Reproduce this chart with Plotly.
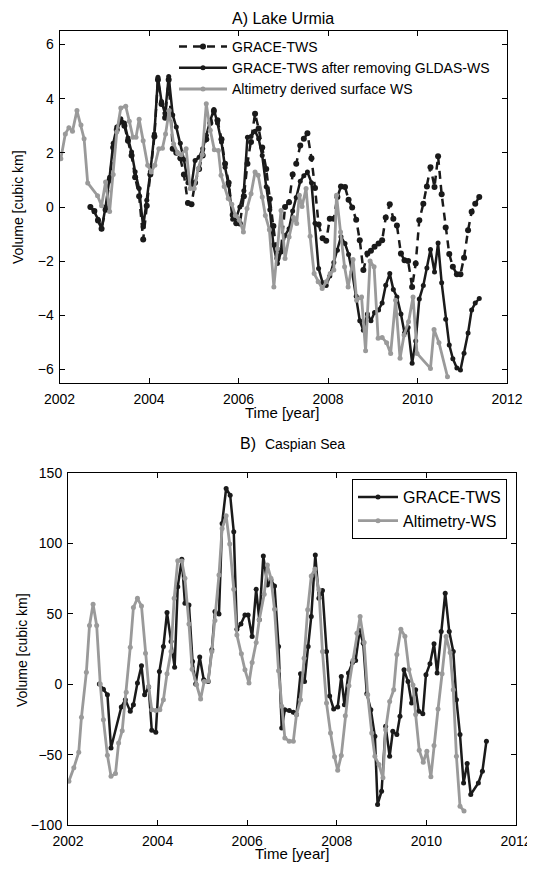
import plotly.graph_objects as go

# ---------------- Panel A: Lake Urmia ----------------
t_grace_a = [2002.69, 2002.78, 2002.86, 2002.94,
             2003.03, 2003.12, 2003.20, 2003.28, 2003.37, 2003.45, 2003.53, 2003.61, 2003.69, 2003.78, 2003.87, 2003.95,
             2004.03, 2004.12, 2004.20, 2004.28, 2004.36, 2004.44, 2004.53, 2004.61, 2004.70, 2004.78, 2004.87, 2004.95,
             2005.03, 2005.12, 2005.20, 2005.28, 2005.37, 2005.45, 2005.53, 2005.62, 2005.70, 2005.78, 2005.87, 2005.95,
             2006.03, 2006.12, 2006.20, 2006.28, 2006.37, 2006.45, 2006.53, 2006.62, 2006.70, 2006.78, 2006.87, 2006.95,
             2007.04, 2007.13, 2007.21, 2007.29, 2007.38, 2007.46, 2007.54, 2007.63, 2007.71, 2007.79, 2007.88, 2007.96,
             2008.04, 2008.13, 2008.21, 2008.29, 2008.38, 2008.46, 2008.54, 2008.63, 2008.71, 2008.79, 2008.88, 2008.96,
             2009.04, 2009.13, 2009.21, 2009.29, 2009.38, 2009.46, 2009.54, 2009.63, 2009.71, 2009.79, 2009.88, 2009.96,
             2010.04, 2010.13, 2010.21, 2010.29, 2010.38, 2010.46, 2010.54, 2010.63, 2010.71, 2010.79, 2010.88, 2010.96,
             2011.04, 2011.13, 2011.21, 2011.29, 2011.38]

grace_tws_a = [0.00, -0.15, -0.50, -0.80,
               -0.10, 1.00, 2.20, 2.85, 3.15, 3.00, 2.45, 1.90, 1.10, 0.40, -1.20, 0.05,
               1.20, 2.60, 4.70, 3.80, 3.30, 4.70, 2.15, 2.00, 1.80, 1.20, 0.15, 0.10,
               0.90, 1.40, 1.90, 2.50, 3.10, 3.55, 3.20, 2.50, 1.60, 0.90, -0.30, -0.60,
               -0.61, 0.40, 1.60, 2.40, 3.44, 2.90, 2.20, 1.40, 0.30, -0.70, -1.90, -1.60,
               0.00, 0.18, 1.20, 1.60, 2.27, 2.52, 2.72, 1.80, 0.70, -0.65, -1.15, -1.25,
               -0.43, -0.43, 0.37, 0.76, 0.74, 0.27, -0.02, -0.47, -1.23, -2.33, -1.72, -1.62,
               -1.47, -1.35, -1.23, -0.39, 0.10, -0.43, -0.68, -1.72, -1.97, -1.99, -2.95, -2.09,
               -0.49, 0.12, 0.76, 1.47, 0.74, 1.87, 0.47, -0.76, -1.74, -2.21, -2.48, -2.48,
               -1.87, -0.86, -0.18, 0.12, 0.37]

grace_minus_gldas_a = [0.00, -0.18, -0.45, -0.80,
                       0.00, 1.10, 2.35, 2.95, 3.26, 3.10, 2.55, 2.03, 1.30, 0.68, -0.74, 0.25,
                       1.30, 2.70, 4.79, 3.90, 3.44, 4.82, 3.40, 2.95, 2.35, 1.75, 0.90, 0.80,
                       1.72, 1.84, 2.15, 2.65, 3.20, 3.60, 3.10, 2.40, 1.47, 0.80, -0.45, -0.40,
                       0.00, 0.60, 2.58, 2.60, 2.80, 2.52, 1.90, 0.75, -0.10, -1.40, -2.09, -1.66,
                       -1.05, -0.80, -0.15, 0.35, 0.95, 1.15, 1.29, 0.90, -0.60, -2.27, -2.80, -2.90,
                       -2.55, -2.05, -1.60, -1.10, -1.35, -1.75, -2.40, -3.30, -4.20, -4.55, -3.95, -4.20,
                       -3.90, -3.80, -3.55, -2.89, -2.46, -3.05, -3.32, -3.95, -4.65, -4.45, -5.77, -4.95,
                       -3.40, -2.90, -2.25, -1.57, -2.40, -1.33, -2.80, -4.15, -5.10, -5.60, -5.95, -6.02,
                       -5.40, -4.65, -3.80, -3.55, -3.38]

t_alt_a = [2002.03, 2002.13, 2002.21, 2002.29, 2002.39, 2002.48, 2002.55, 2002.63, 2002.85, 2002.94,
           2003.03, 2003.12, 2003.20, 2003.28, 2003.37, 2003.48, 2003.56, 2003.64, 2003.71, 2003.78, 2003.87, 2003.97,
           2004.05, 2004.13, 2004.22, 2004.30, 2004.37, 2004.45, 2004.55, 2004.64, 2004.72, 2004.83, 2004.92,
           2005.01, 2005.10, 2005.19, 2005.28, 2005.37, 2005.46, 2005.55, 2005.61, 2005.68, 2005.77, 2005.85, 2005.93,
           2006.02, 2006.11, 2006.19, 2006.28, 2006.37, 2006.44, 2006.53, 2006.60, 2006.69, 2006.79, 2006.87, 2006.95,
           2007.04, 2007.13, 2007.23, 2007.30, 2007.36, 2007.42, 2007.51, 2007.60, 2007.69, 2007.78, 2007.87, 2007.96,
           2008.05, 2008.13, 2008.19, 2008.28, 2008.37, 2008.45, 2008.56, 2008.64, 2008.75, 2008.84, 2008.94,
           2009.03, 2009.12, 2009.21, 2009.31, 2009.40, 2009.51, 2009.61, 2009.70, 2009.80, 2009.90, 2009.99,
           2010.29, 2010.37, 2010.48, 2010.67]

alt_ws_a = [1.78, 2.70, 2.93, 2.80, 3.56, 3.03, 2.52, 0.89, 0.42, 0.05,
            0.92, -0.17, 1.20, 2.77, 3.66, 3.72, 3.17, 2.58, 2.58, 3.24, 2.45, 1.54,
            1.29, 1.54, 2.15, 2.17, 2.70, 3.56, 2.33, 2.00, 1.93, 2.15, 0.68,
            0.68, 1.41, 1.93, 3.81, 2.83, 2.11, 2.09, 1.17, 0.76, 0.31, 0.10, -0.31,
            -0.49, -0.92, -0.06, 0.49, 1.29, 1.17, 0.37, -0.31, -0.84, -2.95, -1.54, -0.13,
            -1.90, -1.11, -0.39, -0.61, 0.43, 0.02, 0.68, -1.08, -2.46, -2.76, -3.01, -2.76,
            -2.46, -2.33, 0.43, -0.92, -2.21, -2.95, -1.94, -3.44, -3.32, -5.31, -1.99,
            -2.21, -4.85, -4.82, -5.01, -5.41, -3.44, -5.59, -4.73, -4.24, -3.32, -5.41,
            -5.96, -4.52, -5.01, -6.27]

# ---------------- Panel B: Caspian Sea ----------------
t_grace_b = [2002.70, 2002.79, 2002.88, 2002.96, 2003.19, 2003.28, 2003.39, 2003.46, 2003.55, 2003.64, 2003.71,
             2003.80, 2003.87, 2003.96, 2004.04, 2004.13, 2004.21, 2004.30, 2004.38, 2004.45, 2004.54, 2004.61,
             2004.70, 2004.78, 2004.85, 2004.94, 2005.03, 2005.13, 2005.21, 2005.28, 2005.37, 2005.44, 2005.53,
             2005.62, 2005.70, 2005.77, 2005.86, 2005.95, 2006.02, 2006.11, 2006.20, 2006.27, 2006.36, 2006.45,
             2006.53, 2006.61, 2006.70, 2006.77, 2006.84, 2006.94, 2007.03, 2007.10, 2007.19, 2007.28, 2007.36,
             2007.43, 2007.52, 2007.60, 2007.68, 2007.77, 2007.84, 2007.93, 2008.02, 2008.10, 2008.17, 2008.26,
             2008.35, 2008.42, 2008.51, 2008.59, 2008.67, 2008.76, 2008.85, 2008.91, 2009.00, 2009.09, 2009.18,
             2009.25, 2009.34, 2009.41, 2009.50, 2009.59, 2009.67, 2009.76, 2009.83, 2009.92, 2009.99, 2010.08,
             2010.17, 2010.24, 2010.33, 2010.42, 2010.51, 2010.60, 2010.67, 2010.75, 2010.83, 2010.91, 2010.99,
             2011.16, 2011.25, 2011.34]

grace_tws_b = [0.1, -3.5, -7.5, -45.3, -16.2, -11.0, -19.3, -14.6, 0.8, 13.1, -7.5,
               -2.0, -32.7, -34.2, 9.0, 26.8, 50.9, 30.3, 12.1, 69.3, 88.7, 57.5,
               56.3, 16.2, 0.1, 19.3, 3.2, 2.0, 24.4, 51.6, 49.9, 114.2, 139.0,
               134.2, 108.2, 39.1, 42.8, 49.2, 49.2, 33.9, 67.4, 45.7, 91.0, 70.5,
               74.0, 69.8, 26.8, -31.1, -18.1, -18.6, -20.0, -21.6, 7.4, 2.0, 26.8,
               48.0, 91.7, 61.0, 66.5, 23.2, -8.3, -17.6, -16.2, 5.5, -14.6, 7.9,
               15.4, 16.9, 38.1, 29.1, -6.8, -18.1, -37.0, -85.4, -76.0, -29.9, -51.2,
               -33.5, -35.8, -22.8, 10.2, 1.9, -13.4, -4.0, -19.3, -20.9, 6.7, 14.5,
               28.7, 7.9, 37.4, 64.6, 37.4, 23.2, -11.0, -35.8, -70.1, -56.4, -78.3,
               -70.1, -61.8, -40.5]

t_alt_b = [2002.02, 2002.13, 2002.24, 2002.30, 2002.41, 2002.48, 2002.56, 2002.64, 2002.72, 2002.79, 2002.88,
           2002.96, 2003.06, 2003.13, 2003.21, 2003.30, 2003.39, 2003.46, 2003.55, 2003.64, 2003.73, 2003.80,
           2003.87, 2003.96, 2004.05, 2004.13, 2004.21, 2004.30, 2004.37, 2004.45, 2004.54, 2004.61, 2004.70,
           2004.77, 2004.87, 2004.96, 2005.04, 2005.13, 2005.21, 2005.28, 2005.37, 2005.44, 2005.53, 2005.61,
           2005.70, 2005.77, 2005.87, 2005.95, 2006.04, 2006.11, 2006.20, 2006.27, 2006.38, 2006.45, 2006.53,
           2006.61, 2006.70, 2006.77, 2006.84, 2006.94, 2007.03, 2007.10, 2007.19, 2007.27, 2007.35, 2007.43,
           2007.51, 2007.60, 2007.68, 2007.77, 2007.86, 2007.95, 2008.02, 2008.10, 2008.19, 2008.27, 2008.36,
           2008.45, 2008.52, 2008.61, 2008.69, 2008.78, 2008.85, 2008.94, 2009.03, 2009.09, 2009.18, 2009.27,
           2009.34, 2009.43, 2009.52, 2009.61, 2009.70, 2009.76, 2009.84, 2009.93, 2010.01, 2010.10, 2010.17,
           2010.26, 2010.35, 2010.44, 2010.53, 2010.60, 2010.67, 2010.75, 2010.84]

alt_ws_b = [-68.9, -59.4, -48.3, -23.5, 8.4, 41.7, 56.8, 41.7, 0.1, -25.2, -50.5,
            -65.3, -63.5, -41.7, -33.0, -5.8, 26.3, 54.4, 61.0, 55.6, 22.0, -1.6,
            -18.1, -18.6, -18.1, -11.0, 7.4, 23.2, 61.0, 87.7, 87.5, 75.2, 42.8,
            10.7, -0.4, -10.5, 2.0, 2.4, 23.2, 45.2, 77.6, 110.6, 119.6, 99.5,
            67.4, 35.0, 21.6, 10.2, 0.8, 15.4, 29.6, 45.7, 63.9, 84.6, 75.2,
            53.2, 9.5, -15.7, -38.2, -40.5, -40.5, -21.6, -11.0, 18.5, 52.8, 76.9,
            81.8, 67.0, 23.2, -13.4, -34.6, -51.6, -61.1, -50.7, -22.4, -1.1, 16.9,
            36.2, 48.0, 29.6, -7.5, -34.6, -51.2, -57.1, -66.5, -32.3, -12.2, -4.0,
            21.1, 39.1, 34.1, 10.4, -0.5, -21.6, -46.9, -55.4, -47.6, -65.8, -43.6,
            -17.6, 7.4, 33.9, 22.5, -4.0, -51.2, -86.6, -90.1]

x_ticks = [2002, 2004, 2006, 2008, 2010, 2012]
y_ticks_a = [-6, -4, -2, 0, 2, 4, 6]
y_ticks_b = [-100, -50, 0, 50, 100, 150]

BLACK = "#1a1a1a"
GRAY = "#9a9a9a"
FONT = "Liberation Sans, Arial, sans-serif"

# page body has an 8px margin: the figure is sized to fit inside it
OFF = 8
W, H = 535 - 2 * OFF, 872 - 2 * OFF


def fx(px):
    return (px - OFF) / W


def fy(py):
    return 1 - (py - OFF) / H


fig = go.Figure()

fig.add_trace(go.Scatter(x=t_grace_a, y=grace_tws_a, mode="lines+markers", name="GRACE-TWS",
                         line=dict(color=BLACK, width=2.5, dash="8px,6px"),
                         marker=dict(color=BLACK, size=6), xaxis="x", yaxis="y", legend="legend"))
fig.add_trace(go.Scatter(x=t_grace_a, y=grace_minus_gldas_a, mode="lines+markers",
                         name="GRACE-TWS after removing GLDAS-WS",
                         line=dict(color=BLACK, width=2.5), marker=dict(color=BLACK, size=5),
                         xaxis="x", yaxis="y", legend="legend"))
fig.add_trace(go.Scatter(x=t_alt_a, y=alt_ws_a, mode="lines+markers", name="Altimetry derived surface WS",
                         line=dict(color=GRAY, width=2.8), marker=dict(color=GRAY, size=5),
                         xaxis="x", yaxis="y", legend="legend"))

fig.add_trace(go.Scatter(x=t_grace_b, y=grace_tws_b, mode="lines+markers", name="GRACE-TWS",
                         line=dict(color=BLACK, width=2.5), marker=dict(color=BLACK, size=5),
                         xaxis="x2", yaxis="y2", legend="legend2"))
fig.add_trace(go.Scatter(x=t_alt_b, y=alt_ws_b, mode="lines+markers", name="Altimetry-WS",
                         line=dict(color=GRAY, width=2.8), marker=dict(color=GRAY, size=5),
                         xaxis="x2", yaxis="y2", legend="legend2"))

axis_common = dict(showline=True, linecolor="black", linewidth=1, mirror="ticks", ticks="inside",
                   ticklen=5, tickcolor="black", showgrid=False, zeroline=False, automargin=False,
                   ticklabeloverflow="allow",
                   tickfont=dict(family=FONT, size=14, color="black"))
x_extra = dict(ticklabelstandoff=3)
y_extra = dict(ticklabelstandoff=2)

fig.update_layout(
    width=W, height=H, margin=dict(l=0, r=0, t=0, b=0, autoexpand=False),
    paper_bgcolor="white", plot_bgcolor="white",
    font=dict(family=FONT, color="black"),
    xaxis=dict(domain=[fx(59.5), fx(507)], range=[2002, 2012], tickvals=x_ticks, anchor="y",
               **axis_common, **x_extra),
    yaxis=dict(domain=[fy(383), fy(31)], range=[-6.5, 6.5], tickvals=y_ticks_a, anchor="x",
               **axis_common, **y_extra),
    xaxis2=dict(domain=[fx(68), fx(516)], range=[2002, 2012], tickvals=x_ticks, anchor="y2",
                **axis_common, **x_extra),
    yaxis2=dict(domain=[fy(825), fy(473)], range=[-100, 150], tickvals=y_ticks_b, anchor="x2",
                **axis_common, **y_extra),
    legend=dict(x=fx(174), y=fy(31), xanchor="left", yanchor="top", bgcolor="rgba(0,0,0,0)",
                borderwidth=0, font=dict(family=FONT, size=14, color="black"), tracegroupgap=0,
                itemwidth=48),
    legend2=dict(x=fx(507), y=fy(479), xanchor="right", yanchor="top", bgcolor="white",
                 bordercolor="black", borderwidth=1, font=dict(family=FONT, size=16, color="black"),
                 itemwidth=40),
    showlegend=True,
    annotations=[
        dict(text="A) Lake Urmia", x=fx(283), y=fy(18), xref="paper", yref="paper",
             xanchor="center", yanchor="middle",
             showarrow=False, font=dict(family=FONT, size=16, color="black")),
        dict(text="B)  <span style='font-size:14px'>Caspian Sea</span>", x=fx(292), y=fy(443),
             xanchor="center", yanchor="middle",
             xref="paper", yref="paper", showarrow=False, font=dict(family=FONT, size=16, color="black")),
        dict(text="Volume [cubic km]", x=fx(18), y=fy(207), xref="paper", yref="paper",
             xanchor="center", yanchor="middle",
             textangle=-90, showarrow=False, font=dict(family=FONT, size=14, color="black")),
        dict(text="Volume [cubic km]", x=fx(22), y=fy(650), xref="paper", yref="paper",
             xanchor="center", yanchor="middle",
             textangle=-90, showarrow=False, font=dict(family=FONT, size=14, color="black")),
        dict(text="Time [year]", x=fx(282), y=fy(412), xref="paper", yref="paper",
             xanchor="center", yanchor="middle",
             showarrow=False, font=dict(family=FONT, size=15, color="black")),
        dict(text="Time [year]", x=fx(292), y=0, xref="paper", yref="paper",
             xanchor="center", yanchor="bottom",
             showarrow=False, font=dict(family=FONT, size=15, color="black")),
    ],
)

fig.write_html("out.html")
